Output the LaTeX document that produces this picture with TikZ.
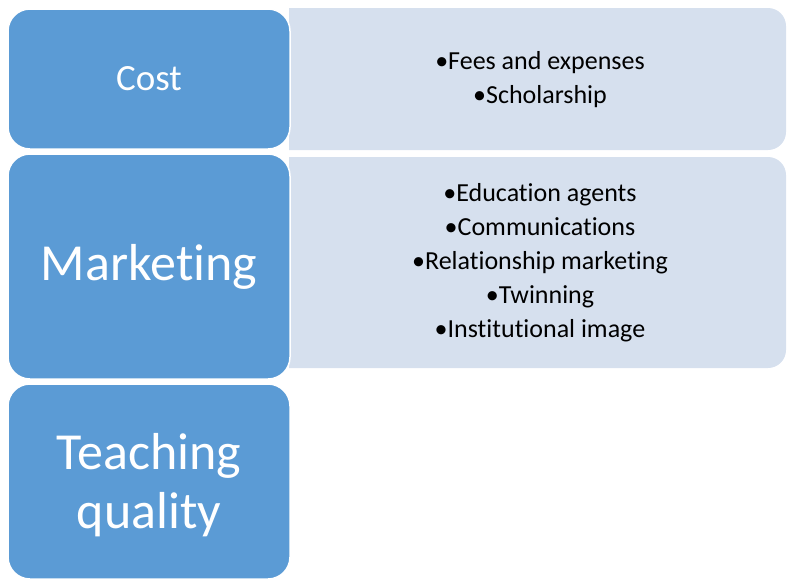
\documentclass[tikz,border=0pt]{standalone}
\usepackage{fontspec}
\setmainfont{Carlito}[RawFeature={-liga;-clig;-calt;-dlig}]
\usepackage{xcolor}
\definecolor{boxblue}{RGB}{91,155,213}
\definecolor{panelblue}{RGB}{214,224,238}
\tikzstyle{catS}=[draw=white,line width=1.5pt,fill=boxblue,rounded corners=22pt,
  text=white,align=center,inner sep=0pt,outer sep=0pt,minimum width=282pt,anchor=north west]
\tikzstyle{listS}=[align=center,inner sep=0pt,font=\fontsize{26}{34}\selectfont]

\begin{document}
\begin{tikzpicture}[x=1pt,y=-1pt]
  \tikzstyle panelS=[fill=panelblue,rounded corners=18pt,inner sep=0pt,outer sep=0pt,
    minimum width=540pt,anchor=north east];
  \useasboundingbox (0,0) rectangle (787,579);
  % right hand panels, left side cut square
  \begin{scope}
    \clip (289,0) rectangle (787,579);
    \node[panelS,minimum height=142pt] (costpanel) at (786,8) {};
    \node[panelS,minimum height=211pt] (mktpanel) at (786,157) {};
  \end{scope}
  \node[listS] (costlist) at (540,80) {•Fees and expenses\\•Scholarship};
  \node[listS] (mktlist) at (540,263) {•Education agents\\•Communications\\
    •Relationship marketing\\•Twinning\\•Institutional image};
  % left hand categories
  \node[catS,minimum height=140pt,font=\fontsize{37}{44}\selectfont]
    (cost) at (8,9) {Cost};
  \node[catS,minimum height=225pt,font=\fontsize{52}{60}\selectfont]
    (mkt) at (8,154) {Marketing};
  \node[catS,minimum height=195pt,font=\fontsize{52}{59}\selectfont]
    (teach) at (8,384) {};
  \node[align=center,text=white,inner sep=0pt,font=\fontsize{52}{59}\selectfont]
    (teachtxt) at (149,485) {Teaching\\quality};
\end{tikzpicture}
\end{document}
